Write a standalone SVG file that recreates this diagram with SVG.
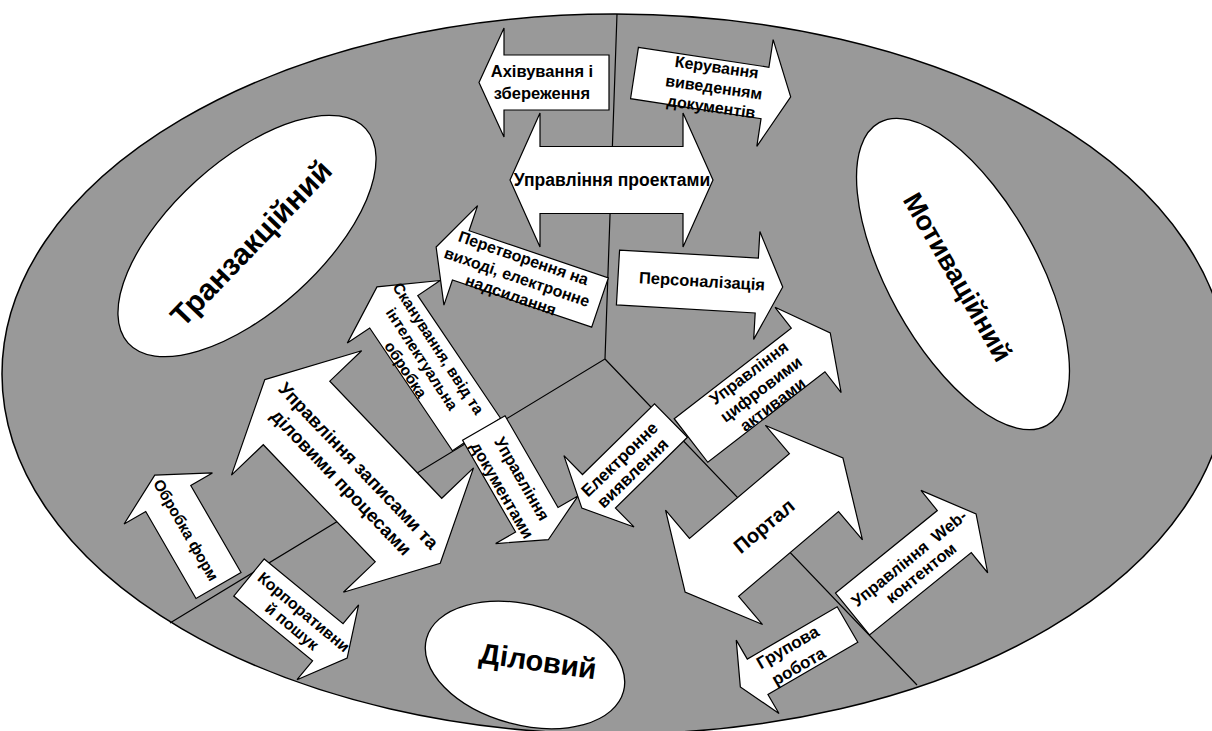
<svg xmlns="http://www.w3.org/2000/svg" width="1212" height="731" viewBox="0 0 1212 731">
<style>
.bg{fill:#999999;stroke:#000;stroke-width:1.5}
.el{fill:#fff;stroke:#000;stroke-width:1.3}
.ar{fill:#fff;stroke:#000;stroke-width:1.2;stroke-linejoin:miter}
.ln{fill:none;stroke:#000;stroke-width:1.2}
text{font-family:"Liberation Sans",Arial,sans-serif;font-weight:bold;fill:#000;text-anchor:middle}
.t16{font-size:16px}
.t165{font-size:16.5px}
</style>
<rect width="1212" height="731" fill="#fff"/>
<ellipse class="bg" cx="615" cy="374" rx="613" ry="360"/>
<g id="connectors">
<path class="ln" d="M617,14 L605,359 L170,623 M605,359 L917,685"/>
</g>
<g id="transaktsiinyi">
<ellipse class="el" cx="247" cy="236" rx="160" ry="75" transform="rotate(-42 247 236)"/>
<text style="font-size:30px" transform="translate(251,243) rotate(-46)" y="10.5">Транзакційний</text>
</g>
<g id="motyvatsiinyi">
<ellipse class="el" cx="963" cy="274" rx="173" ry="75" transform="rotate(61 963 274)"/>
<text style="font-size:27px" transform="translate(958,277) rotate(60)" y="9.5">Мотиваційний</text>
</g>
<g id="dilovyi">
<ellipse class="el" cx="525" cy="665" rx="102" ry="60" transform="rotate(15 525 665)"/>
<text style="font-size:29px" transform="translate(538,661) rotate(8)" y="10">Діловий</text>
</g>
<g id="arkhivuvannia">
<polygon class="ar" transform="translate(609,82.5) rotate(180)" points="0,-27.5 105,-27.5 105,-54.5 130,0 105,54.5 105,27.5 0,27.5"/>
<text class="t165" x="542" y="77">Ахівування і</text>
<text class="t165" x="542" y="99">збереження</text>
</g>
<g id="keruvannia">
<polygon class="ar" transform="translate(634.5,73) rotate(8.7)" points="0,-26 132,-26 132,-54 158,0 132,54 132,26 0,26"/>
<g class="t16" transform="translate(714,87) rotate(8)">
<text y="-14.5">Керування</text>
<text y="5.8">виведенням</text>
<text y="25.5">документів</text>
</g>
</g>
<g id="upravlinnia-proektamy">
<polygon class="ar" transform="translate(611.5,180)" points="-101.5,0 -71.5,-67 -71.5,-33.5 71.5,-33.5 71.5,-67 101.5,0 71.5,67 71.5,33.5 -71.5,33.5 -71.5,67"/>
<text style="font-size:17.5px" x="612" y="186">Управління проектами</text>
</g>
<g id="peretvorennia">
<polygon class="ar" transform="translate(600,302.5) rotate(198.7)" points="0,-26 147,-26 147,-52.5 173,0 147,52.5 147,26 0,26"/>
<g class="t16" transform="translate(517,277) rotate(19)">
<text y="-14.5">Перетворення на</text>
<text y="5.6">виході, електронне</text>
<text y="24.6">надсилання</text>
</g>
</g>
<g id="personalizatsiia">
<polygon class="ar" transform="translate(618,277.5) rotate(3.3)" points="0,-27.5 139,-27.5 139,-54 165,0 139,54 139,27.5 0,27.5"/>
<text class="t165" transform="translate(702,281) rotate(3.3)" y="5.8">Персоналізація</text>
</g>
<g id="upravlinnia-zapysamy">
<polygon class="ar" transform="translate(352.5,471.5) rotate(46.3)" points="-127,0 -81,-90 -81,-46 81,-46 81,-90 127,0 81,90 81,46 -81,46 -81,90"/>
<g transform="translate(352.5,471.5) rotate(46.3)" style="font-size:18.5px">
<text y="-2">Управління записами та</text>
<text y="22">діловими процесами</text>
</g>
</g>
<g id="skanuvannia">
<polygon class="ar" transform="translate(476.5,434.5) rotate(236)" points="0,-29 148,-29 148,-56 178,0 148,56 148,29 0,29"/>
<g transform="translate(422,359) rotate(57)" style="font-size:15.5px">
<text y="-14">Сканування, ввід та</text>
<text y="5.4">інтелектуальна</text>
<text y="24.8">обробка</text>
</g>
</g>
<g id="upravlinnia-dokumentamy">
<polygon class="ar" transform="translate(483.8,428) rotate(60)" points="0,-24.5 106,-24.5 106,-47.5 129,0 106,47.5 106,24.5 0,24.5"/>
<g class="t165" transform="translate(512,484.5) rotate(60)">
<text y="-5.8">Управління</text>
<text y="17">документами</text>
</g>
</g>
<g id="obrobka-form">
<polygon class="ar" transform="translate(218.5,585.5) rotate(240)" points="0,-26 100.5,-26 100.5,-51 127.5,0 100.5,51 100.5,26 0,26"/>
<text style="font-size:15.5px" transform="translate(186,530) rotate(60)" y="5.4">Обробка форм</text>
</g>
<g id="korporatyvnyi-poshuk">
<polygon class="ar" transform="translate(249,577.5) rotate(39.4)" points="0,-24 102,-24 102,-48.5 127,0 102,48.5 102,24 0,24"/>
<g class="t16" transform="translate(298,619) rotate(40)">
<text y="-3.5">Корпоративни</text>
<text y="15">й пошук</text>
</g>
</g>
<g id="upravlinnia-tsyfrovymy">
<polygon class="ar" transform="translate(691,440.5) rotate(-37.7)" points="0,-27.5 148,-27.5 148,-54 176,0 148,54 148,27.5 0,27.5"/>
<g class="t165" transform="translate(761,389) rotate(-37)">
<text y="-14.5">Управління</text>
<text y="5.8">цифровими</text>
<text y="25">активами</text>
</g>
</g>
<g id="elektronne-vyiavlennia">
<polygon class="ar" transform="translate(671,420.5) rotate(135.5)" points="0,-23.5 101,-23.5 101,-50 125,0 101,50 101,23.5 0,23.5"/>
<g style="font-size:17px" transform="translate(626,466) rotate(-44)">
<text y="-3.5">Електронне</text>
<text y="15.5">виявлення</text>
</g>
</g>
<g id="portal">
<polygon class="ar" transform="translate(764,525) rotate(-40.3)" points="-103.5,0 -65.5,-75 -65.5,-38 65.5,-38 65.5,-75 103.5,0 65.5,75 65.5,38 -65.5,38 -65.5,75"/>
<text style="font-size:20px" transform="translate(764,526) rotate(-40)" y="7">Портал</text>
</g>
<g id="hrupova-robota">
<polygon class="ar" transform="translate(847.5,624.5) rotate(149.8)" points="0,-20.5 104,-20.5 104,-42.5 124,0 104,42.5 104,20.5 0,20.5"/>
<g style="font-size:17px" transform="translate(793,656.5) rotate(-30)">
<text y="-5">Групова</text>
<text y="17">робота</text>
</g>
</g>
<g id="upravlinnia-web">
<polygon class="ar" transform="translate(852.5,614) rotate(-39)" points="0,-27 131,-27 131,-53 159,0 131,53 131,27 0,27"/>
<g class="t165" transform="translate(915,565.5) rotate(-39)">
<text y="-3.6" xml:space="preserve">Управління  Web-</text>
<text y="15.2">контентом</text>
</g>
</g>
</svg>
